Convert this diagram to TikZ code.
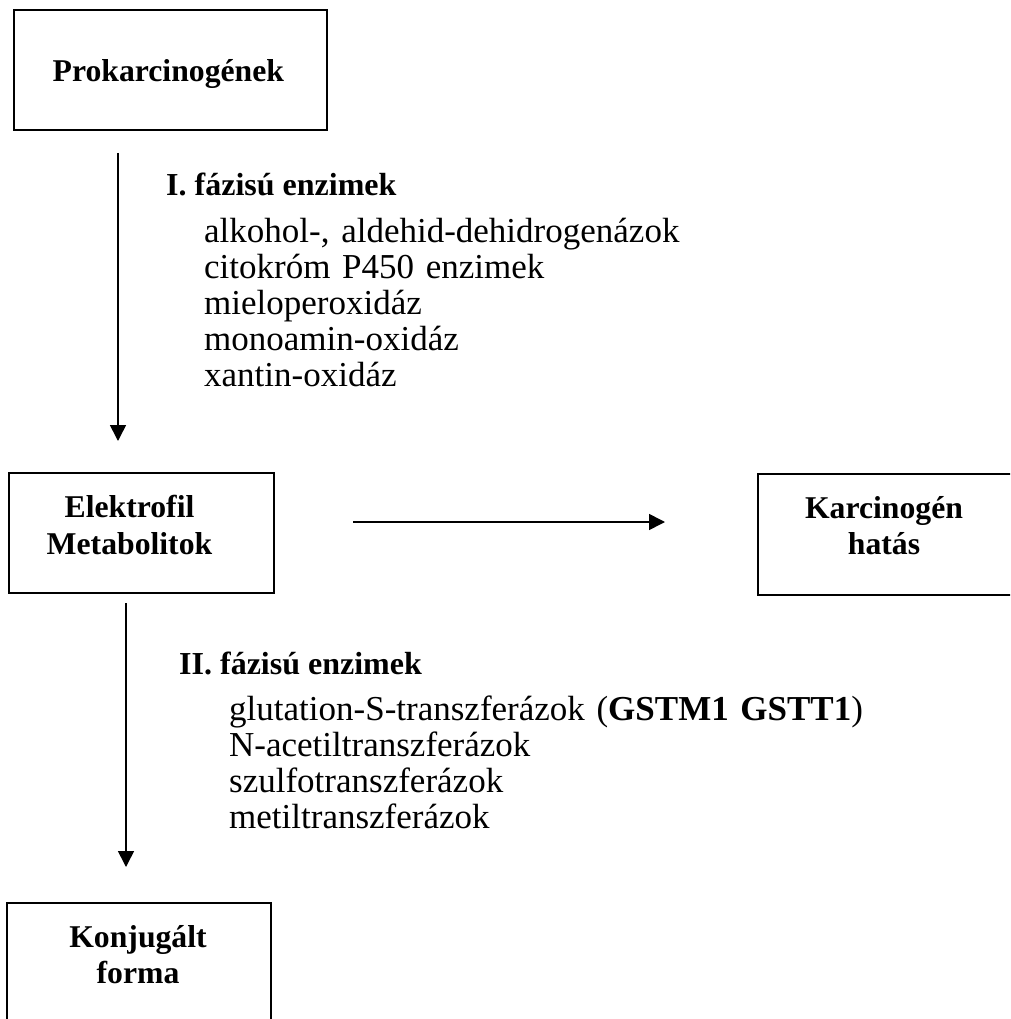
\documentclass[tikz,border=0pt]{standalone}
\usepackage{fontspec}
\setmainfont{Liberation Serif}
\usetikzlibrary{arrows.meta,positioning}

\begin{document}
\begin{tikzpicture}[x=1pt, y=-1pt,
    box/.style={draw=black, line width=1.6pt, inner sep=0pt},
    boxtext/.style={font=\fontsize{31.7}{36.5}\selectfont\bfseries, align=center,
                    text width=8cm, inner sep=0pt, anchor=base},
    enzhead/.style={font=\fontsize{32}{36}\selectfont\bfseries, inner sep=0pt, anchor=base west},
    enzlist/.style={font=\fontsize{35}{36}\selectfont, align=left, text width=28cm,
                    inner sep=0pt, anchor=base west},
    arr/.style={-{Triangle[length=16pt, width=16pt]}, line width=1.6pt},
  ]
  \useasboundingbox (0,0) rectangle (1010,1019);
  \clip (0,0) rectangle (1010,1019);

  % Boxes
  \node[box, minimum width=313pt, minimum height=120pt] (prok) at (170.5,70) {};
  \node[box, minimum width=265pt, minimum height=120pt] (elek) at (141.5,533) {};
  \node[box, minimum width=270pt, minimum height=121pt] (karc) at (893,534.5) {};
  \node[box, minimum width=264pt, minimum height=160pt] (konj) at (139,983) {};

  % Box texts
  \node[boxtext] (proktxt) at (166.5,82) {Prokarcinogének};
  \node[boxtext] (elektxt) at (129.5,517.5) {Elektrofil\\Metabolitok};
  \node[boxtext] (karctxt) at (884,518) {Karcinogén\\hatás};
  \node[boxtext] (konjtxt) at (138,947) {Konjugált\\forma};

  % Arrow ends
  \coordinate (a1s) at (118,153);
  \coordinate (a1e) at (118,441);
  \coordinate (a2s) at (353,522);
  \coordinate (a2e) at (665,522);
  \coordinate (a3s) at (126,603);
  \coordinate (a3e) at (126,867);

  % Arrows
  \draw[arr] (a1s) -- (a1e);
  \draw[arr] (a2s) -- (a2e);
  \draw[arr] (a3s) -- (a3e);

  % Enzyme lists
  \node[enzhead] (ph1) at (166,196) {I. fázisú enzimek};
  \node[enzlist] (ph1list) at (204,242)
    {alkohol-, aldehid-dehidrogenázok\\citokróm P450 enzimek\\mieloperoxidáz\\monoamin-oxidáz\\xantin-oxidáz};
  \node[enzhead] (ph2) at (179,674) {II. fázisú enzimek};
  \node[enzlist] (ph2list) at (229,720)
    {glutation-S-transzferázok (\textbf{GSTM1 GSTT1})\\N-acetiltranszferázok\\szulfotranszferázok\\metiltranszferázok};
\end{tikzpicture}
\end{document}
